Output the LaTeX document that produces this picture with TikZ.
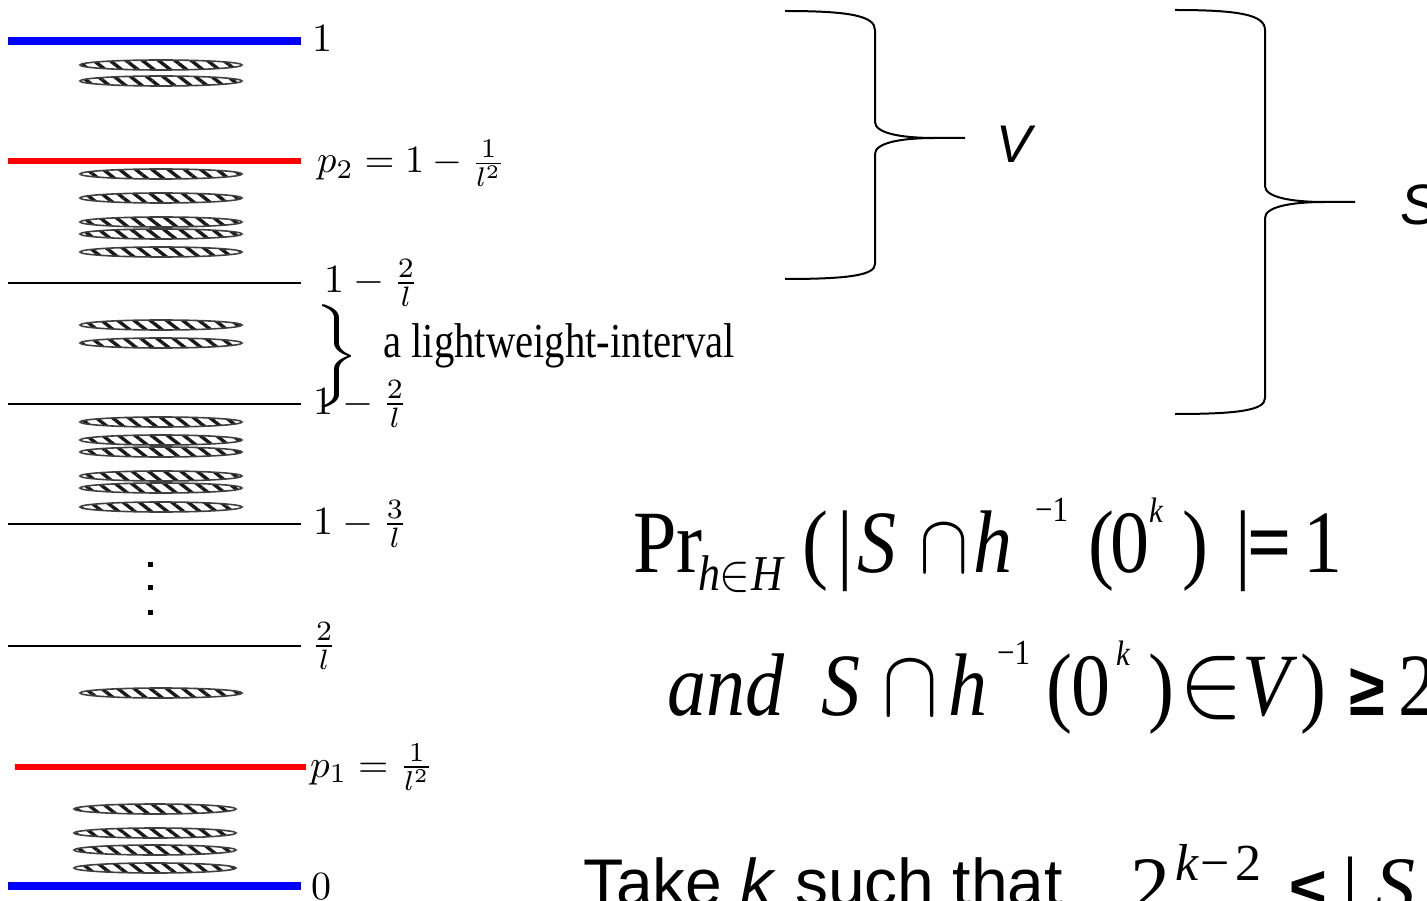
\documentclass[tikz,border=0pt]{standalone}
\usepackage{graphicx}
\usepackage{fontspec}
\usetikzlibrary{patterns.meta}
\newfontfamily\tnr{Liberation Serif}
\newfontfamily\arial{Liberation Sans}
\newcommand\putat[2]{\rlap{\hspace*{#1pt}#2}}
\newcommand\upat[3]{\rlap{\hspace*{#1pt}\raisebox{#2pt}{#3}}}
\newcommand\fs[1]{\fontsize{#1}{#1}\selectfont}
\newcommand\mth[2]{\scalebox{#1}{\fs{10}$#2$}}
\definecolor{pureblue}{RGB}{0,0,255}
\definecolor{purered}{RGB}{255,0,0}
\tikzset{
  bluebar/.style={pureblue, line width=8pt},
  redbar/.style={purered, line width=5.5pt},
  level/.style={black, line width=1.3pt},
  disc/.style={draw=black!75, line width=1.6pt, pattern={Lines[angle=-38,distance=10pt,line width=3.4pt]}, pattern color=black!90},
  lab/.style={anchor=base west, inner sep=0pt},
  curly/.style={black, line width=2pt},
  eq/.style={anchor=base west, inner sep=0pt},
}
\begin{document}
\begin{tikzpicture}[x=1pt,y=-1pt]
\useasboundingbox (0,0) rectangle (1427,901);
\clip (0,0) rectangle (1427,901);
% level lines
\draw[bluebar] (8,41) -- (301,41);
\draw[redbar] (8,161) -- (301,161);
\draw[level] (8,283) -- (301,283);
\draw[level] (8,404) -- (301,404);
\draw[level] (8,524) -- (301,524);
\draw[level] (8,646) -- (301,646);
\draw[redbar] (15,767) -- (306,767);
\draw[bluebar] (8,886) -- (301,886);
% hatched discs
\foreach \yy in {65,81,174,198,222,234,252,325,343,422,440,452,476,488,507,693}
  \path[disc] (161,\yy) ellipse [x radius=81pt, y radius=5pt];
\foreach \yy in {809,833,850,868}
  \path[disc] (155,\yy) ellipse [x radius=81pt, y radius=5pt];
% vertical dots
\foreach \yy in {564,587,612}
  \fill (150,\yy) +(-2.5,-2.5) rectangle +(2.5,2.5);
% labels
\node[lab] (l1) at (312,52) {\mth{4}{1}};
\node[lab] (lp2) at (317,173) {\mth{3.85}{p_2=1-\frac{1}{l^2}}};
\node[lab] (l2a) at (324,293) {\mth{4}{1-\frac{2}{l}}};
\node[lab] (l2b) at (313,414) {\mth{4}{1-\frac{2}{l}}};
\node[lab] (l3) at (313,534) {\mth{4}{1-\frac{3}{l}}};
\node[lab] (l4) at (311,656) {\mth{4}{\frac{2}{l}}};
\node[lab] (lp1) at (310,777) {\mth{3.9}{p_1=\frac{1}{l^2}}};
\node[lab] (l0) at (311,899) {\mth{4}{0}};
% lightweight interval brace
\node[anchor=west, inner sep=0pt] (lwb) at (314,356) {\scalebox{6}[4.3]{\fs{10}$\bigg\}$}};
\node[eq] (lwt) at (383,357) {\scalebox{1}[1.2]{\tnr\fs{40.7}a lightweight-interval}};
% big braces
\draw[curly] (785,11) .. controls (850,11) and (875,16) .. (875,30) -- (875,122) .. controls (875,133) and (900,138) .. (935,138) -- (965,138);
\draw[curly] (875,154) .. controls (875,143) and (900,138) .. (935,138);
\draw[curly] (875,154) -- (875,264) .. controls (875,275) and (850,279) .. (785,279);
\node[eq] (vlab) at (996,163) {\arial\itshape\fs{53}V};
\draw[curly] (1175,10) .. controls (1240,10) and (1265,15) .. (1265,30) -- (1265,186) .. controls (1265,197) and (1290,202) .. (1325,202) -- (1355,202);
\draw[curly] (1265,218) .. controls (1265,207) and (1290,202) .. (1325,202);
\draw[curly] (1265,218) -- (1265,398) .. controls (1265,410) and (1240,414) .. (1175,414);
\node[eq] (slab) at (1400,225) {\arial\itshape\fs{57}S};
% formula line 1
\node[eq] (eqA) at (633,572) {\scalebox{1}[1.14]{\tnr\fs{78}%
 \putat{0}{Pr}%
 \upat{65}{-16}{\fs{44}\itshape h}%
 \upat{86}{-16}{\mth{4.6}{\in}}%
 \upat{118}{-16}{\fs{44}\itshape H}%
 \putat{169}{(}%
 \putat{204}{|}%
 \putat{224}{\itshape S}%
 \putat{286}{\mth{7.4}{\cap}}%
 \putat{340}{\itshape h}%
 \upat{402}{44}{\fs{31}−1}%
 \putat{455}{(}%
 \putat{477}{0}%
 \upat{516}{43}{\fs{31}\itshape k}%
 \putat{549}{)}%
 \putat{602}{|}%
 \putat{614}{\bfseries =}%
 \putat{670}{1}%
 \hspace*{700pt}}};
% formula line 2
\node[eq] (eqB) at (665,715) {\scalebox{1}[1.14]{\tnr\fs{78}%
 \putat{2}{\itshape and}%
 \putat{156}{\itshape S}%
 \putat{217}{\mth{8.4}{\cap}}%
 \putat{283}{\itshape h}%
 \upat{332}{44}{\fs{31}−1}%
 \putat{381}{(}%
 \putat{406}{0}%
 \upat{451}{43}{\fs{31}\itshape k}%
 \putat{483}{)}%
 \putat{514}{\mth{9.6}{\in}}%
 \putat{577}{\itshape V}%
 \putat{635}{)}%
 \putat{684}{\arial\bfseries\fs{65}≥}%
 \putat{733}{2}%
 \hspace*{770pt}}};
% line 3
\node[eq] (take) at (583,905) {\arial\fs{66}Take \textit{k} such that};
\node[eq] (eqC) at (1130,912) {\tnr\fs{80}%
 \putat{0}{2}%
 \upat{45}{32}{\fs{52}\itshape k}%
 \upat{70}{32}{\fs{52}−}%
 \upat{105}{32}{\fs{52}2}%
 \putat{160}{\arial\bfseries\fs{65}≤}%
 \putat{212}{|}%
 \putat{245}{\itshape S}%
 \hspace*{300pt}};
\end{tikzpicture}
\end{document}
